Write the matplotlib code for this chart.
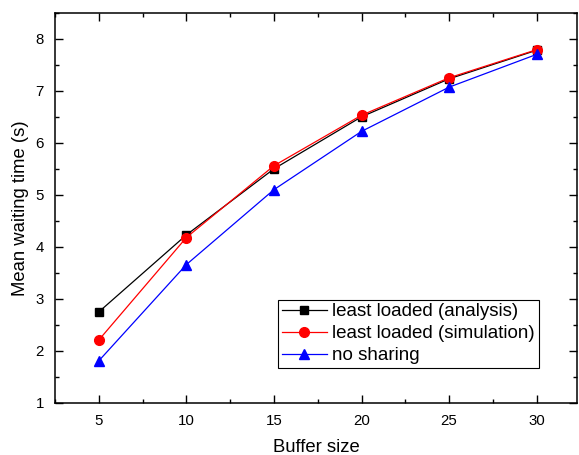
import matplotlib
matplotlib.use("Agg")
import matplotlib.pyplot as plt
from matplotlib.ticker import MultipleLocator

plt.rcParams['font.family'] = ['Liberation Sans', 'DejaVu Sans']

buffer_size = [5, 10, 15, 20, 25, 30]
analysis = [2.75, 4.23, 5.50, 6.50, 7.23, 7.78]
simulation = [2.21, 4.18, 5.56, 6.53, 7.25, 7.79]
no_sharing = [1.81, 3.66, 5.10, 6.22, 7.07, 7.70]

fig = plt.figure(figsize=(5.79, 4.55), dpi=100)
ax = fig.add_axes([0.095, 0.1143, 0.9015, 0.8577])

ax.plot(buffer_size, analysis, color='black', marker='s', markersize=6, lw=0.9,
        label='least loaded (analysis)')
ax.plot(buffer_size, simulation, color='red', marker='o', markersize=7, lw=0.9,
        label='least loaded (simulation)')
ax.plot(buffer_size, no_sharing, color='blue', marker='^', markersize=7, lw=0.9,
        label='no sharing')

ax.set_xlim(2.5, 32.3)
ax.set_ylim(1, 8.5)
ax.xaxis.set_major_locator(MultipleLocator(5))
ax.xaxis.set_minor_locator(MultipleLocator(2.5))
ax.yaxis.set_major_locator(MultipleLocator(1))
ax.yaxis.set_minor_locator(MultipleLocator(0.5))
ax.tick_params(which='both', direction='in', top=True, right=True, labelsize=10.8, width=1)
ax.tick_params(which='major', length=6, pad=8)
ax.tick_params(which='minor', length=3)
for s in ax.spines.values():
    s.set_linewidth(1.1)

ax.set_xlabel('Buffer size', fontsize=13.3, labelpad=8)
ax.set_ylabel('Mean waiting time (s)', fontsize=13.3, labelpad=5)

leg = ax.legend(loc='lower left', bbox_to_anchor=(0.427, 0.09), fontsize=13.5,
                frameon=True, fancybox=False, edgecolor='black', framealpha=1,
                handlelength=2.4, handletextpad=0.3, borderpad=0.2, labelspacing=0.25,
                borderaxespad=0)
leg.get_frame().set_linewidth(0.8)

fig.savefig('out.png', dpi=100)
